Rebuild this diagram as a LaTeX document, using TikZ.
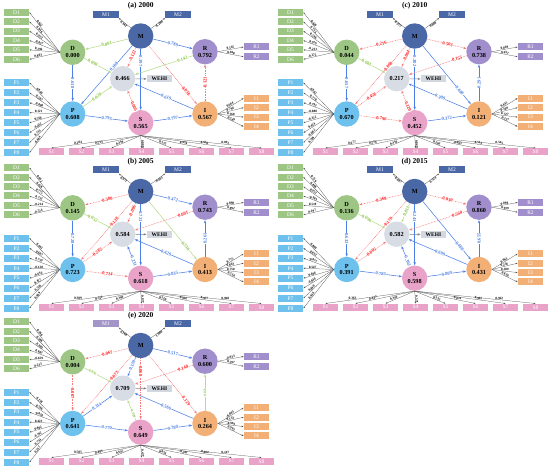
\documentclass[tikz,border=0pt]{standalone}
\usepackage{fontspec}
\setmainfont{Liberation Serif}
\usetikzlibrary{arrows.meta}
\definecolor{dcol}{HTML}{9DC584}
\definecolor{pcol}{HTML}{6EC1EC}
\definecolor{scol}{HTML}{E9A3C9}
\definecolor{mcol}{HTML}{4A67A6}
\definecolor{m1col}{HTML}{A495C9}
\definecolor{rcol}{HTML}{A08FCC}
\definecolor{icol}{HTML}{F2AF76}
\definecolor{wcol}{HTML}{D8DCE5}
\definecolor{wbox}{HTML}{D3D7DF}
\definecolor{bcol}{HTML}{4C80E6}
\definecolor{rline}{HTML}{F77A7A}
\definecolor{rtxt}{HTML}{FF1A1A}
\definecolor{gline}{HTML}{B5DC8A}
\definecolor{gtxt}{HTML}{86C443}
\tikzset{
 circ/.style={circle, minimum size=25.4pt, inner sep=0pt, align=center, font=\fontsize{6.2}{6.8}\selectfont\bfseries},
 box/.style={minimum width=25.5pt, minimum height=7pt, inner sep=0pt, text=white, font=\fontsize{5.5}{6}\selectfont},
 ld/.style={draw=black!70, line width=0.25pt, -{Stealth[length=2pt,width=1.4pt]}},
 ldl/.style={font=\fontsize{3.4}{3.6}\selectfont\bfseries, sloped, above, inner sep=0.2pt},
 tip/.style={-{Stealth[length=3.2pt,width=2.4pt]}},
 pb/.style={draw=bcol, line width=0.55pt, tip},
 pr/.style={draw=rline, line width=0.55pt, dash pattern=on 0.8pt off 0.8pt, tip},
 pg/.style={draw=gline, line width=0.55pt, tip},
 lbl/.style={sloped, font=\fontsize{4.7}{5}\selectfont\bfseries, inner sep=0.3pt, fill=white},
 lb/.style={lbl, text=bcol},
 lr/.style={lbl, text=rtxt},
 lg/.style={lbl, text=gtxt},
 warr/.style={draw=gray, line width=0.6pt, -{Stealth[length=3pt,width=2.4pt]}},
}
\newcommand\panelnodes[8]{%
 \node[font=\fontsize{7.5}{8}\selectfont\bfseries] (T) at (140.7,6) {#1};
 \node[circ,fill=dcol] (D) at (72.7,52.3) {D\\#2};
 \node[circ,fill=pcol] (P) at (72.7,114) {P\\#3};
 \node[circ,fill=scol] (S) at (140.7,122.7) {S\\#4};
 \node[circ,fill=wcol] (W) at (122.7,78.7) {#5};
 \node[circ,fill=rcol] (R) at (205,51.7) {R\\#6};
 \node[circ,fill=icol] (I) at (205,114) {I\\#7};
 \node[circ,fill=mcol] (M) at (140.7,36) {M};
 \node[box,fill=#8] (M1) at (106,14.5) {M1};
 \node[box,fill=mcol] (M2) at (178,14.5) {M2};
 \node[box,fill=wbox,text=black,font=\fontsize{5.5}{6}\selectfont\bfseries] (WB) at (159.5,79) {WEHI};
 \foreach \i in {1,...,6} \node[box,fill=dcol] (D\i) at (16.5,{12.3+9.4*(\i-1)}) {D\i};
 \foreach \i in {1,...,8} \node[box,fill=pcol] (P\i) at (16.5,{82.7+10*(\i-1)}) {P\i};
 \foreach \i in {1,...,8} \node[box,fill=scol] (S\i) at ({51.5+30*(\i-1)},151.7) {S\i};
 \node[box,fill=rcol] (R1) at (256.5,47) {R1};
 \node[box,fill=rcol] (R2) at (256.5,56.7) {R2};
 \foreach \i in {1,...,4} \node[box,fill=icol] (I\i) at (256.5,{98.3+9.4*(\i-1)}) {I\i};
 \draw[warr] (W) -- (WB);
}
\newcommand\loadings[7]{%
 \foreach \v [count=\i] in {#1} \draw[ld] (D.west) -- (D\i.east) node[ldl,pos=0.7]{\v};
 \foreach \v [count=\i] in {#2} \draw[ld] (P.west) -- (P\i.east) node[ldl,pos=0.7]{\v};
 \foreach \v [count=\i] in {#3} \draw[ld] (S.south) -- (S\i.north) node[ldl,pos=0.7]{\v};
 \draw[ld] (M) -- (M1.south east) node[ldl,below,pos=0.5]{#4};
 \draw[ld] (M) -- (M2.south west) node[ldl,below,pos=0.5]{#5};
 \foreach \v [count=\i] in {#6} \draw[ld] (R.east) -- (R\i.west) node[ldl,pos=0.5]{\v};
 \foreach \v [count=\i] in {#7} \draw[ld] (I.east) -- (I\i.west) node[ldl,pos=0.5]{\v};
}
\newcommand\pth[5]{\draw[p#1] (#2) -- (#3) node[l#1,pos=#5]{#4};}
\begin{document}
\begin{tikzpicture}[x=1pt,y=-1pt]
\useasboundingbox (0,0) rectangle (550,468);
% (a) 2000
\begin{scope}[shift={(0,0)}, name prefix=a-]
\panelnodes{(a) 2000}{0.000}{0.608}{0.565}{0.466}{0.792}{0.567}{mcol}
\loadings{0.922,0.946,0.922,-0.857,0.296,0.803}{0.849,0.587,-0.808,0.121,0.566,-0.452,0.733,-0.444}{0.284,0.513,0.394,0.080,0.572,0.954,0.950,0.892}{0.962}{-0.288}{0.545,0.948}{0.664,0.796,0.568,0.549}
\pth{g}{M}{D}{0.001}{0.5}
\pth{b}{M}{P}{0.308}{0.36}
\pth{r}{M}{W}{-0.122}{0.42}
\pth{b}{M}{S}{0.197}{0.2}
\pth{b}{M}{R}{0.789}{0.5}
\pth{r}{M}{I}{-0.038}{0.77}
\pth{b}{D}{P}{0.618}{0.5}
\pth{g}{D}{W}{0.090}{0.32}
\pth{g}{P}{W}{0.029}{0.47}
\pth{b}{P}{S}{0.793}{0.5}
\pth{r}{S}{W}{-0.005}{0.25}
\pth{b}{S}{I}{0.797}{0.5}
\pth{b}{I}{W}{0.619}{0.46}
\pth{r}{I}{R}{-0.121}{0.5}
\pth{g}{R}{W}{0.142}{0.18}
\end{scope}
% (c) 2010
\begin{scope}[shift={(274,0)}, name prefix=c-]
\panelnodes{(c) 2010}{0.044}{0.670}{0.452}{0.217}{0.738}{0.121}{mcol}
\loadings{0.420,0.755,0.596,0.979,-0.231,-0.272}{0.962,0.770,0.793,-0.080,-0.322,0.424,-0.682,0.709}{0.677,0.576,0.310,0.869,0.283,-0.863,0.513,0.545}{-0.972}{0.800}{0.869,0.637}{0.445,0.309,0.727,0.257}
\pth{r}{M}{D}{-0.216}{0.5}
\pth{r}{M}{P}{-0.060}{0.36}
\pth{r}{M}{W}{-0.064}{0.42}
\pth{b}{M}{S}{0.302}{0.2}
\pth{r}{M}{R}{-0.503}{0.5}
\pth{b}{M}{I}{0.608}{0.77}
\pth{b}{D}{P}{0.657}{0.5}
\pth{g}{D}{W}{0.081}{0.32}
\pth{r}{P}{W}{-0.458}{0.47}
\pth{r}{P}{S}{-0.796}{0.5}
\pth{r}{S}{W}{-0.120}{0.25}
\pth{b}{S}{I}{0.372}{0.5}
\pth{b}{I}{W}{0.309}{0.46}
\pth{b}{I}{R}{0.291}{0.5}
\pth{r}{R}{W}{-0.155}{0.18}
\end{scope}
% (b) 2005
\begin{scope}[shift={(0,155.5)}, name prefix=b-]
\panelnodes{(b) 2005}{0.145}{0.723}{0.618}{0.584}{0.743}{0.413}{mcol}
\loadings{0.662,0.626,0.775,0.752,-0.214,-0.724}{0.465,0.607,0.759,-0.128,-0.616,0.427,-0.536,0.469}{0.309,0.511,0.390,0.877,0.520,0.962,0.957,0.960}{0.971}{-0.563}{0.898,0.892}{0.775,0.863,0.750,0.534}
\pth{r}{M}{D}{-0.380}{0.5}
\pth{r}{M}{P}{-0.128}{0.36}
\pth{r}{M}{W}{-0.096}{0.42}
\pth{b}{M}{S}{0.721}{0.2}
\pth{b}{M}{R}{0.472}{0.5}
\pth{g}{M}{I}{0.536}{0.77}
\pth{b}{D}{P}{0.728}{0.5}
\pth{g}{D}{W}{0.052}{0.32}
\pth{r}{P}{W}{-0.282}{0.47}
\pth{r}{P}{S}{-0.714}{0.5}
\pth{b}{S}{W}{0.231}{0.25}
\pth{b}{S}{I}{0.835}{0.5}
\pth{b}{I}{W}{0.429}{0.46}
\pth{b}{I}{R}{0.261}{0.5}
\pth{r}{R}{W}{-0.001}{0.18}
\end{scope}
% (d) 2015
\begin{scope}[shift={(274,155.5)}, name prefix=d-]
\panelnodes{(d) 2015}{0.136}{0.391}{0.598}{0.582}{0.860}{0.431}{mcol}
\loadings{0.719,0.896,0.952,-0.383,0.518,0.197}{0.809,0.832,-0.077,0.547,0.486,-0.034,0.490,0.436}{-0.363,0.447,0.348,0.571,0.532,0.874,0.902,0.962}{-0.897}{0.524}{0.898,0.939}{0.893,0.236,0.389,0.636}
\pth{r}{M}{D}{-0.368}{0.5}
\pth{r}{M}{P}{-0.170}{0.36}
\pth{g}{M}{W}{0.013}{0.42}
\pth{b}{M}{S}{0.241}{0.2}
\pth{r}{M}{R}{-0.030}{0.5}
\pth{b}{M}{I}{0.488}{0.77}
\pth{b}{D}{P}{0.632}{0.5}
\pth{g}{D}{W}{0.096}{0.32}
\pth{r}{P}{W}{-0.005}{0.47}
\pth{b}{P}{S}{0.783}{0.5}
\pth{b}{S}{W}{0.362}{0.25}
\pth{b}{S}{I}{0.809}{0.5}
\pth{b}{I}{W}{0.699}{0.46}
\pth{b}{I}{R}{0.655}{0.5}
\pth{r}{R}{W}{-0.560}{0.18}
\end{scope}
% (e) 2020
\begin{scope}[shift={(0,309.5)}, name prefix=e-]
\panelnodes{(e) 2020}{0.004}{0.641}{0.649}{0.709}{0.600}{0.264}{m1col}
\loadings{0.390,0.586,-0.802,0.603,-0.659,0.235}{0.158,0.786,-0.028,0.423,0.802,-0.782,-0.754,0.257}{0.585,0.491,0.645,0.477,0.056,-0.201,-0.064,0.147}{0.168}{1.000}{-0.933,0.297}{-0.085,0.133,-0.963,0.992}
\pth{r}{M}{D}{-0.067}{0.5}
\pth{r}{M}{P}{-0.073}{0.36}
\pth{b}{M}{W}{0.139}{0.42}
\pth{r}{M}{S}{-0.068}{0.2}
\pth{b}{M}{R}{0.517}{0.5}
\pth{r}{M}{I}{-0.129}{0.77}
\pth{r}{D}{P}{-0.007}{0.5}
\draw[pg] (D) -- (W) node[lg,pos=0.32,font=\fontsize{3.6}{4}\selectfont\bfseries]{0.036};
\pth{b}{P}{W}{0.314}{0.47}
\pth{b}{P}{S}{0.770}{0.5}
\draw[pg] (S) -- (W) node[lg,pos=0.3,font=\fontsize{3.6}{4}\selectfont\bfseries]{0.009};
\pth{b}{S}{I}{0.780}{0.5}
\pth{b}{I}{W}{0.566}{0.46}
\draw[pg] (I) -- (R) node[lg,pos=0.5,font=\fontsize{3.6}{4}\selectfont\bfseries]{0.021};
\pth{r}{R}{W}{-0.148}{0.18}
\end{scope}
\end{tikzpicture}
\end{document}
